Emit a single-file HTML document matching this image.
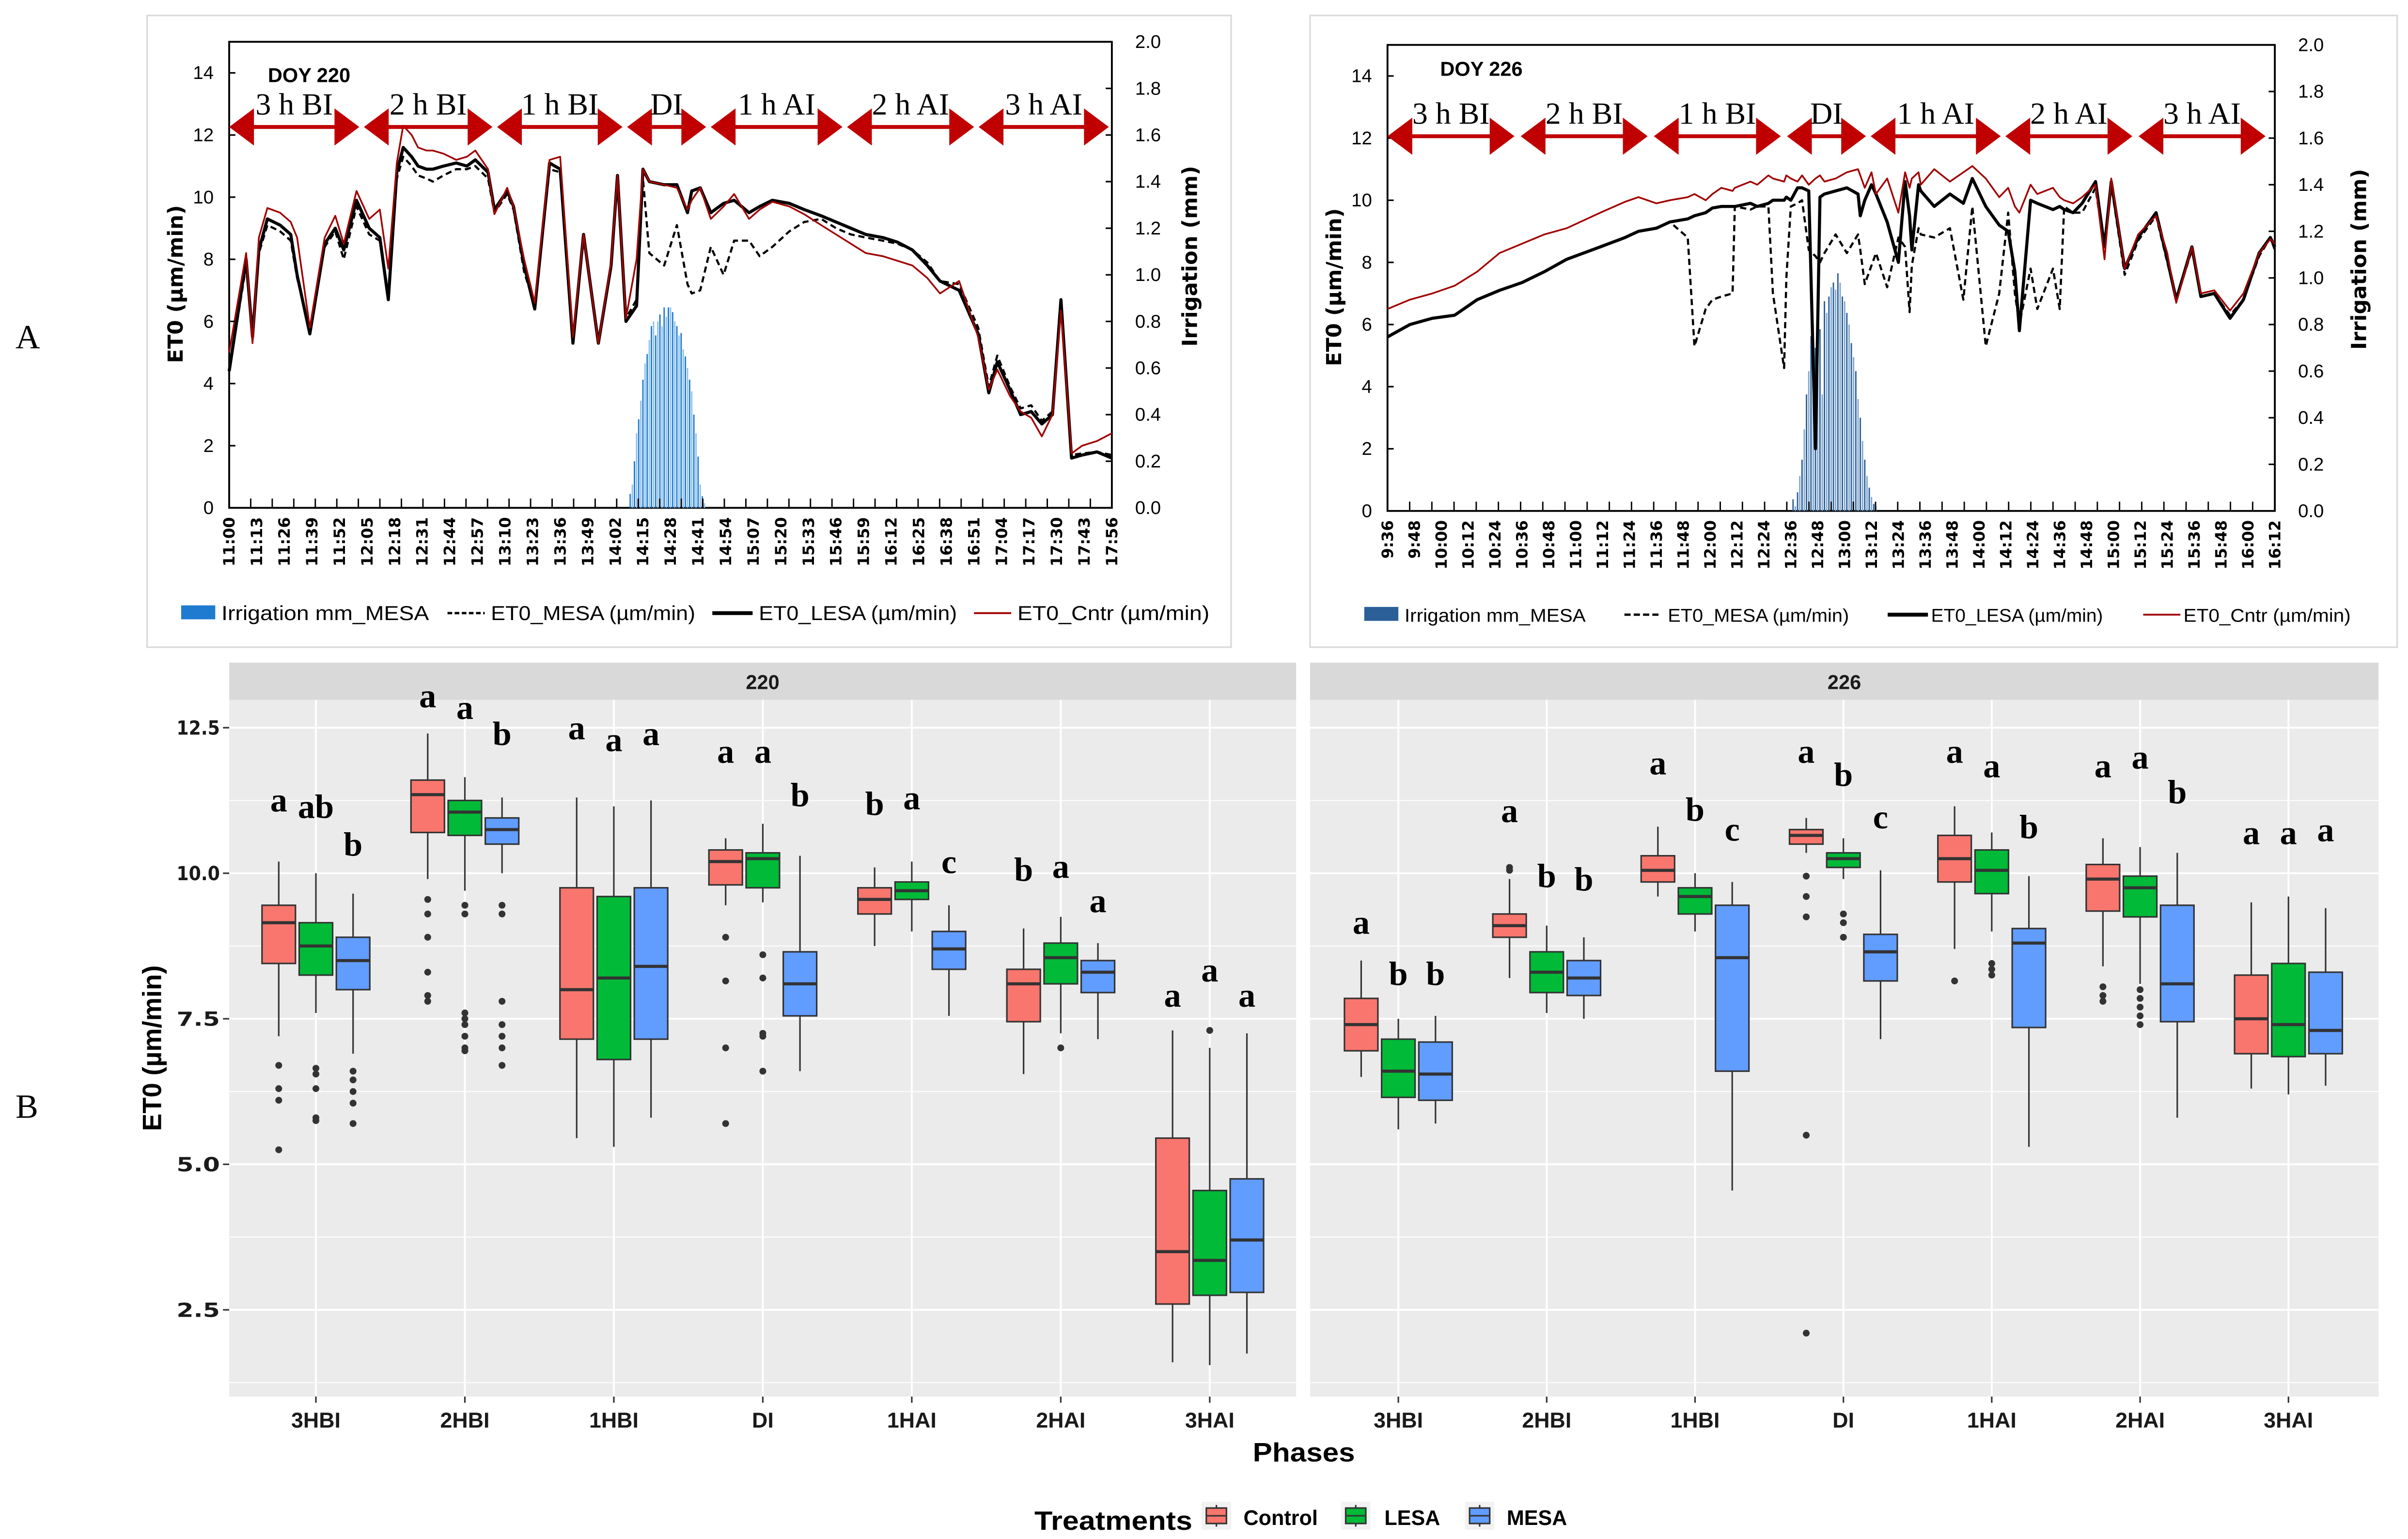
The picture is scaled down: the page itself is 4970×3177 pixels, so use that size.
<!DOCTYPE html>
<html><head><meta charset="utf-8"><title>ET0 chart</title>
<style>
html,body{margin:0;padding:0;background:#fff;}
svg{display:block;}
</style></head>
<body>
<svg id="fig" xmlns="http://www.w3.org/2000/svg" width="4970" height="3177" viewBox="0 0 1555 994" preserveAspectRatio="none">
<rect x="0" y="0" width="1555" height="994" fill="#fff"/>
<text x="10" y="225" font-family="Liberation Serif, serif" font-size="22">A</text>
<text x="10" y="722" font-family="Liberation Serif, serif" font-size="22">B</text>
<g id="topL"></g><g id="topR"></g><g id="bot"></g>
</svg>
<script>
// ---------- DATA: DOY 220 line chart (minutes after 11:00) ----------
const tL = [0,8,11,14,18,24,29,32,38,45,50,54,60,66,71,75,79,82,86,89,93,96,101,107,112,116,122,125,131,134,139,144,151,156,162,167,174,180,183,187,192,195,198,205,211,216,218,222,227,233,238,245,250,256,264,271,279,286,293,300,308,315,322,329,335,344,353,358,362,368,373,378,383,388,392,397,402,409,416];
const cntrL = [5.0,8.2,5.3,8.7,9.65,9.5,9.2,8.7,5.8,8.7,9.4,8.5,10.2,9.3,9.6,7.7,11.1,12.3,12.0,11.6,11.5,11.5,11.4,11.2,11.3,11.5,10.9,9.45,10.3,9.7,8.0,6.6,11.2,11.3,5.5,8.8,5.3,7.9,10.7,6.1,8.0,10.9,10.5,10.4,10.3,9.6,9.9,10.3,9.3,9.7,10.1,9.3,9.6,9.85,9.7,9.45,9.1,8.8,8.5,8.2,8.1,7.95,7.8,7.4,6.9,7.3,5.5,3.8,4.45,3.6,3.1,2.9,2.3,3.0,6.35,1.75,2.0,2.15,2.4];
const lesaL = [4.4,8.0,5.5,8.3,9.3,9.1,8.8,7.5,5.6,8.5,9.0,8.3,9.9,9.0,8.7,6.7,10.8,11.6,11.3,11.0,10.9,10.9,11.0,11.1,11.0,11.2,10.8,9.6,10.2,9.7,7.8,6.4,11.1,10.9,5.3,8.8,5.3,7.8,10.7,6.0,6.5,10.9,10.5,10.4,10.4,9.5,10.2,10.3,9.5,9.8,9.9,9.5,9.7,9.9,9.8,9.6,9.4,9.2,9.0,8.8,8.7,8.55,8.3,7.8,7.3,7.0,5.6,3.7,4.7,3.8,3.0,3.1,2.7,3.0,6.7,1.6,1.7,1.8,1.6];
const mesaL = [4.4,7.8,5.4,8.2,9.1,8.9,8.6,7.4,5.7,8.4,8.9,8.0,9.7,8.8,8.6,6.9,10.6,11.3,11.0,10.7,10.6,10.5,10.7,10.9,10.9,11.0,10.6,9.5,10.1,9.6,7.6,6.5,10.9,10.8,5.4,8.7,5.4,7.7,10.5,6.1,6.7,10.6,8.2,7.8,9.1,7.2,6.9,7.0,8.4,7.5,8.6,8.6,8.1,8.4,8.9,9.2,9.3,9.0,8.8,8.7,8.6,8.5,8.3,7.9,7.3,7.2,5.8,3.9,4.9,3.9,3.2,3.3,2.8,3.1,6.6,1.7,1.75,1.8,1.7];
const irrTL = [189,190,191,192,193,194,195,196,197,198,199,200,201,202,203,204,205,206,207,208,209,210,211,212,213,214,215,216,217,218,219,220,221,222,223,224];
const irrL = [0.06,0.1,0.2,0.32,0.38,0.46,0.55,0.62,0.66,0.72,0.78,0.8,0.74,0.8,0.83,0.78,0.86,0.82,0.86,0.86,0.84,0.8,0.78,0.74,0.75,0.68,0.65,0.6,0.55,0.5,0.4,0.32,0.22,0.1,0.05,0.02];
// ---------- DATA: DOY 226 line chart (minutes after 9:36) ----------
const tR = [0,10,20,30,40,50,60,70,80,95,106,112,120,126,134,137,142,145,149,154,155,162,165,170,172,177,178,180,183,185,188,191,193,195,200,205,210,211,213,216,218,223,228,231,233,234,237,238,244,251,257,261,267,273,277,280,282,287,290,297,300,302,306,310,316,320,323,329,335,343,348,352,359,363,369,376,382,389,394,396];
const cntrR = [6.5,6.8,7.0,7.25,7.7,8.3,8.6,8.9,9.1,9.6,9.95,10.1,9.9,10.0,10.1,10.2,10.0,10.2,10.4,10.3,10.4,10.6,10.5,10.8,10.7,10.6,10.8,10.7,10.6,10.8,10.5,10.7,10.8,10.6,10.7,10.9,11.0,10.8,10.4,10.9,10.2,10.7,9.6,10.9,10.4,10.7,10.9,10.5,11.0,10.6,10.9,11.1,10.7,10.1,10.4,9.8,9.6,10.5,10.2,10.4,10.1,10.0,9.9,10.1,10.5,8.1,10.7,7.8,8.9,9.5,8.3,6.7,8.5,7.0,7.1,6.45,7.0,8.3,8.75,8.6];
const lesaR = [5.6,6.0,6.2,6.3,6.8,7.1,7.35,7.7,8.1,8.5,8.8,9.0,9.1,9.3,9.4,9.5,9.6,9.75,9.8,9.8,9.8,9.9,9.8,9.9,10.0,10.0,10.1,10.0,10.4,10.4,10.3,2.0,10.1,10.2,10.3,10.4,10.2,9.5,10.0,10.5,10.2,9.3,8.0,10.6,9.5,8.4,10.5,10.3,9.8,10.2,9.9,10.7,9.8,9.2,9.0,7.7,5.8,10.0,9.9,9.7,9.8,9.7,9.6,9.9,10.6,8.5,10.6,7.8,8.8,9.6,8.1,6.8,8.5,6.9,7.0,6.2,6.8,8.3,8.8,8.5];
const mesaR = [5.6,6.0,6.2,6.3,6.8,7.1,7.35,7.7,8.1,8.5,8.8,9.0,9.1,9.3,8.8,5.3,6.5,6.8,6.9,7.0,9.8,9.7,9.8,9.8,7.0,4.6,7.5,9.8,9.9,10.0,8.4,8.2,8.0,8.3,8.9,8.3,8.9,8.4,7.3,7.9,8.3,7.2,8.8,8.5,6.4,7.9,9.1,8.9,8.8,9.1,6.8,9.8,5.3,7.0,9.6,7.0,6.0,7.8,6.5,7.8,6.5,9.8,9.6,9.6,10.4,8.4,10.5,7.6,8.7,9.5,8.0,6.8,8.4,6.9,7.0,6.3,6.8,8.2,8.8,8.4];
const irrTR = [181,182,183,184,185,186,187,188,189,190,191,192,193,194,195,196,197,198,199,200,201,202,203,204,205,206,207,208,209,210,211,212,213,214,215,216,217,218];
const irrR = [0.05,0.02,0.08,0.15,0.22,0.35,0.5,0.6,0.75,0.8,0.7,0.85,0.78,0.5,0.9,0.85,0.92,0.96,0.98,0.95,1.02,0.98,0.92,0.9,0.85,0.8,0.72,0.66,0.6,0.48,0.4,0.3,0.22,0.15,0.1,0.06,0.03,0.02];
const phaseNames = ["3 h BI","2 h BI","1 h BI","DI","1 h AI","2 h AI","3 h AI"];
const yTicksTop = [0,2,4,6,8,10,12,14];
const y2TicksTop = ["0.0","0.2","0.4","0.6","0.8","1.0","1.2","1.4","1.6","1.8","2.0"];

// ---------- DATA: boxplots ----------
const phases = ["3HBI","2HBI","1HBI","DI","1HAI","2HAI","3HAI"];
const treatments = ["Control","LESA","MESA"];
const bpTicks = [2.5,5.0,7.5,10.0,12.5];
const d220C = [[7.2,8.45,9.15,9.45,10.2],[9.9,10.7,11.35,11.6,12.4],[5.45,7.15,8.0,9.75,11.3],[9.45,9.8,10.2,10.4,10.6],[8.75,9.3,9.55,9.75,10.1],[6.55,7.45,8.1,8.35,9.05],[1.6,2.6,3.5,5.45,7.3]];
const d220L = [[7.6,8.25,8.75,9.15,10.0],[9.7,10.65,11.05,11.25,11.65],[5.3,6.8,8.2,9.6,11.15],[9.5,9.75,10.25,10.35,10.85],[9.0,9.55,9.7,9.85,10.2],[7.25,8.1,8.55,8.8,9.25],[1.55,2.75,3.35,4.55,7.0]];
const d220M = [[6.9,8.0,8.5,8.9,9.65],[10.0,10.5,10.75,10.95,11.3],[5.8,7.15,8.4,9.75,11.25],[6.6,7.55,8.1,8.65,10.3],[7.55,8.35,8.7,9.0,9.45],[7.15,7.95,8.3,8.5,8.8],[1.75,2.8,3.7,4.75,7.25]];
const d226C = [[6.5,6.95,7.4,7.85,8.5],[8.2,8.9,9.1,9.3,9.9],[9.6,9.85,10.05,10.3,10.8],[10.35,10.5,10.65,10.75,10.95],[8.7,9.85,10.25,10.65,11.15],[8.4,9.35,9.9,10.15,10.6],[6.3,6.9,7.5,8.25,9.5]];
const d226L = [[5.6,6.15,6.6,7.15,7.5],[7.6,7.95,8.3,8.65,9.1],[9.0,9.3,9.6,9.75,10.0],[9.9,10.1,10.25,10.35,10.6],[9.0,9.65,10.05,10.4,10.7],[8.1,9.25,9.75,9.95,10.45],[6.2,6.85,7.4,8.45,9.6]];
const d226M = [[5.7,6.1,6.55,7.1,7.55],[7.5,7.9,8.2,8.5,8.9],[4.55,6.6,8.55,9.45,9.85],[7.15,8.15,8.65,8.95,10.05],[5.3,7.35,8.8,9.05,9.95],[5.8,7.45,8.1,9.45,10.35],[6.35,6.9,7.3,8.3,9.4]];
const o220C = [[6.7,6.3,6.1,5.25],[9.55,9.3,8.9,8.3,7.9,7.8],[],[8.9,8.15,7.0,5.7],[],[],[]];
const o220L = [[6.65,6.55,6.3,5.8,5.75],[9.45,9.3,7.6,7.5,7.4,7.2,7.0,6.95],[],[8.6,8.2,7.25,7.2,6.6],[],[7.0],[7.3]];
const o220M = [[6.6,6.45,6.25,6.05,5.7],[9.45,9.3,7.8,7.4,7.2,7.0,6.7],[],[],[],[],[]];
const o226C = [[],[10.05,10.1],[],[9.95,9.6,9.25,5.5,2.1],[8.15],[8.05,7.9,7.8],[]];
const o226L = [[],[],[],[9.3,9.15,8.9],[8.45,8.35,8.25],[8.0,7.85,7.7,7.55,7.4],[]];
const o226M = [[],[],[],[],[],[],[]];
const let220C = ["a","a","a","a","b","b","a"];
const let220L = ["ab","a","a","a","a","a","a"];
const let220M = ["b","b","a","b","c","a","a"];
const let226C = ["a","a","a","a","a","a","a"];
const let226L = ["b","b","b","b","a","a","a"];
const let226M = ["b","b","c","c","b","b","a"];
const ly220C = [11.06,12.85,12.3,11.9,11.0,9.87,7.71];
const ly220L = [10.95,12.65,12.1,11.9,11.1,9.92,8.14];
const ly220M = [10.3,12.2,12.2,11.15,10.0,9.33,7.71];
const ly226C = [8.96,10.88,11.7,11.9,11.9,11.65,10.5];
const ly226L = [8.08,9.76,10.9,11.5,11.65,11.8,10.5];
const ly226M = [8.08,9.7,10.56,10.77,10.6,11.2,10.55];

const NS="http://www.w3.org/2000/svg";
function mk(parent,tag,attrs,txt){const e=document.createElementNS(NS,tag);for(const k in attrs)e.setAttribute(k,attrs[k]);if(txt!==undefined)e.textContent=txt;parent.appendChild(e);return e;}
function fmtTime(startMin,m){const t=startMin+m;const h=Math.floor(t/60),mm=t%60;return h+":"+(mm<10?"0":"")+mm;}

function lineChart(g,cfg){
  const {x0,x1,yT,yB,tMax,box}=cfg;
  const xs=t=>x0+(x1-x0)*t/tMax;
  const ys=v=>yB-(yB-yT)*v/15;
  const ys2=v=>yB-(yB-yT)*v/2.0;
  const fr=mk(g,'rect',{x:box[0],y:box[1],width:box[2],height:box[3],fill:'#fff',stroke:'#d9d9d9','stroke-width':1});
  
  
  const ax=mk(g,'rect',{x:x0,y:yT,width:x1-x0,height:yB-yT,fill:'none',stroke:'#000','stroke-width':1.2});
  
  
  const ig=mk(g,'g',{});
  
  
  cfg.irrT.forEach((t,i)=>{
    const b=mk(ig,'rect',{x:xs(t)-0.45,y:ys2(cfg.irr[i]),width:0.9,height:yB-ys2(cfg.irr[i]),fill:i%2?cfg.barC2:cfg.barC});
    
    
  });
  function path(ts,vs,attrs,name){
    const d=ts.map((t,i)=>(i?'L':'M')+xs(t).toFixed(2)+' '+ys(vs[i]).toFixed(2)).join(' ');
    const p=mk(g,'path',Object.assign({d:d,fill:'none','stroke-linejoin':'round'},attrs));
    
    
  }
  path(cfg.t,cfg.mesa,{stroke:'#000','stroke-width':1.4,'stroke-dasharray':'4 2.5'},'et0-mesa-line');
  path(cfg.t,cfg.lesa,{stroke:'#000','stroke-width':2},'et0-lesa-line');
  path(cfg.t,cfg.cntr,{stroke:'#a00000','stroke-width':1.1},'et0-cntr-line');
  yTicksTop.forEach(v=>{
    mk(g,'line',{x1:x0,x2:x0+4,y1:ys(v),y2:ys(v),stroke:'#000','stroke-width':1});
    const t=mk(g,'text',{x:x0-10,y:ys(v)+4,'text-anchor':'end','font-family':'Liberation Sans Narrow, Liberation Sans, sans-serif','font-size':12},String(v));
    
    
  });
  y2TicksTop.forEach(s=>{
    const v=parseFloat(s);
    mk(g,'line',{x1:x1-4,x2:x1,y1:ys2(v),y2:ys2(v),stroke:'#000','stroke-width':1});
    const t=mk(g,'text',{x:x1+15,y:ys2(v)+4,'font-family':'Liberation Sans Narrow, Liberation Sans, sans-serif','font-size':12},s);
    
    
  });
  for(let i=0;i<=cfg.nTicks;i++){const x=x0+(x1-x0)*i/cfg.nTicks;mk(g,'line',{x1:x,x2:x,y1:yB-6,y2:yB,stroke:'#000','stroke-width':0.9});}
  for(let m=0;m<=tMax;m+=cfg.step){
    const x=xs(m);
    const t=mk(g,'text',{x:0,y:0,transform:`translate(${x+3.5},${yB+6}) rotate(-90)`,'text-anchor':'end','font-family':'DejaVu Sans, sans-serif','font-weight':'bold','font-size':10},fmtTime(cfg.start,m));
    
    
  }
  const yt=mk(g,'text',{x:0,y:0,transform:`translate(${cfg.ytX},${(yT+yB)/2+6}) rotate(-90)`,'text-anchor':'middle','font-family':'DejaVu Sans, sans-serif','font-weight':'bold','font-size':13.5},'ET0 (µm/min)');
  
  
  const y2=mk(g,'text',{x:0,y:0,transform:`translate(${cfg.y2X},${(yT+yB)/2-12}) rotate(-90)`,'text-anchor':'middle','font-family':'DejaVu Sans, sans-serif','font-weight':'bold','font-size':13.5},'Irrigation (mm)');
  
  
  const doy=mk(g,'text',{x:cfg.doy[0],y:cfg.doy[1],'font-family':'Liberation Sans Narrow, Liberation Sans, sans-serif','font-weight':'bold','font-size':13},cfg.doyText);
  
  
  cfg.segs.forEach((s,i)=>{
    const a=s[0],b=s[1],y=cfg.arrowY;
    const ag=mk(g,'g',{});
    
    
    mk(ag,'line',{x1:a+10,x2:b-10,y1:y,y2:y,stroke:'#c00000','stroke-width':2.5});
    mk(ag,'polygon',{points:`${a},${y} ${a+16},${y-12} ${a+16},${y+12}`,fill:'#c00000'});
    mk(ag,'polygon',{points:`${b},${y} ${b-16},${y-12} ${b-16},${y+12}`,fill:'#c00000'});
    const lt=mk(g,'text',{x:(a+b)/2,y:y-8,'text-anchor':'middle','font-family':'Liberation Serif, serif','font-size':20},phaseNames[i]);
    
    
  });
  const L=cfg.leg, ly=cfg.legY, fs=cfg.legFs;
  const lg=mk(g,'g',{});
  
  
  mk(lg,'rect',{x:L[0],y:ly-5,width:22,height:9,fill:cfg.legBar});
  mk(lg,'line',{x1:L[2],x2:L[2]+24,y1:ly,y2:ly,stroke:'#000','stroke-width':1.5,'stroke-dasharray':cfg.dashLeg});
  mk(lg,'line',{x1:L[4],x2:L[4]+26,y1:ly,y2:ly,stroke:'#000','stroke-width':2.5});
  mk(lg,'line',{x1:L[6],x2:L[6]+24,y1:ly,y2:ly,stroke:'#a00000','stroke-width':1.2});
  const labs=['Irrigation mm_MESA','ET0_MESA (µm/min)','ET0_LESA (µm/min)','ET0_Cntr (µm/min)'];
  labs.forEach((s,i)=>{
    const t=mk(lg,'text',{x:L[2*i+1],y:ly+4.5,'font-family':'Liberation Sans Narrow, Liberation Sans, sans-serif','font-weight':cfg.legW,'font-size':fs,textLength:cfg.legLen[i],lengthAdjust:'spacingAndGlyphs'},s);
    
    
  });
}

lineChart(document.getElementById('topL'),{x0:148,x1:718,yT:27,yB:328,tMax:416,box:[95,10,700,408],
 t:tL,cntr:cntrL,lesa:lesaL,mesa:mesaL,irrT:irrTL,irr:irrL,barC:'#1f7bd0',barC2:'#8cc0ea',legBar:'#1f7bd0',
 nTicks:41,step:13,start:660,ytX:118,y2X:773,doy:[173,53],doyText:'DOY 220',
 segs:[[148,232],[235,318],[321,402],[405,456],[459,544],[547,629],[632,716]],arrowY:82,
 leg:[117,143,289,317,460,490,629,657],legY:396,legFs:13,legW:'normal',legLen:[134,132,128,124],dashLeg:'3 1.6'});
lineChart(document.getElementById('topR'),{x0:896,x1:1469,yT:29,yB:330,tMax:396,box:[846,10,702,408],
 t:tR,cntr:cntrR,lesa:lesaR,mesa:mesaR,irrT:irrTR,irr:irrR,barC:'#2a5f98',barC2:'#7fa6cf',legBar:'#2a5f98',
 nTicks:40,step:12,start:576,ytX:866,y2X:1528,doy:[930,49],doyText:'DOY 226',
 segs:[[896,978],[982,1064],[1068,1150],[1154,1205],[1208,1292],[1295,1377],[1381,1463]],arrowY:88,
 leg:[881,907,1049,1077,1219,1247,1384,1410],legY:397,legFs:12,legW:'normal',legLen:[117,117,111,108],dashLeg:'4 2'});

const bot=document.getElementById('bot');
const yb=v=>940-37.6*v;
const colors=['#f8766d','#00ba38','#619cff'];
function facet(px0,px1,label,c0,dx,data,outs,lets,lys){
  const g=mk(bot,'g',{});
  
  
  mk(g,'rect',{x:px0,y:452,width:px1-px0,height:450,fill:'#ebebeb'});
  const st=mk(g,'rect',{x:px0,y:428,width:px1-px0,height:24,fill:'#d9d9d9'});
  
  
  const sl=mk(g,'text',{x:(px0+px1)/2,y:445,'text-anchor':'middle','font-family':'Liberation Sans Narrow, Liberation Sans, sans-serif','font-weight':'bold','font-size':13,fill:'#1a1a1a'},label);
  
  
  [1.25,3.75,6.25,8.75,11.25].forEach(v=>mk(g,'line',{x1:px0,x2:px1,y1:yb(v),y2:yb(v),stroke:'#fff','stroke-width':0.6}));
  bpTicks.forEach(v=>mk(g,'line',{x1:px0,x2:px1,y1:yb(v),y2:yb(v),stroke:'#fff','stroke-width':1.2}));
  phases.forEach((p,i)=>{
    const cx=c0+i*dx;
    mk(g,'line',{x1:cx,x2:cx,y1:452,y2:902,stroke:'#fff','stroke-width':1.2});
    mk(g,'line',{x1:cx,x2:cx,y1:902,y2:906,stroke:'#333','stroke-width':1});
    const xl=mk(g,'text',{x:cx,y:922,'text-anchor':'middle','font-family':'Liberation Sans Narrow, Liberation Sans, sans-serif','font-weight':'bold','font-size':14,fill:'#1a1a1a'},p);
    
    
  });
  phases.forEach((p,i)=>{
    for(let k=0;k<3;k++){
      const s=data[k][i];const bx=c0+i*dx+(k-1)*24;
      const bg=mk(g,'g',{});
      
      
      mk(bg,'line',{x1:bx,x2:bx,y1:yb(s[0]),y2:yb(s[4]),stroke:'#333','stroke-width':1});
      mk(bg,'rect',{x:bx-10.8,y:yb(s[3]),width:21.6,height:yb(s[1])-yb(s[3]),fill:colors[k],stroke:'#333','stroke-width':1});
      mk(bg,'line',{x1:bx-10.8,x2:bx+10.8,y1:yb(s[2]),y2:yb(s[2]),stroke:'#333','stroke-width':2});
      outs[k][i].forEach(o=>{
        const c=mk(bg,'circle',{cx:bx,cy:yb(o),r:2.2,fill:'#333'});
        
        
      });
      const lt=mk(g,'text',{x:bx,y:yb(lys[k][i]),'text-anchor':'middle','font-family':'Liberation Serif, serif','font-weight':'bold','font-size':22},lets[k][i]);
      
      
    }
  });
}
facet(148,837,'220',204,96.2,[d220C,d220L,d220M],[o220C,o220L,o220M],[let220C,let220L,let220M],[ly220C,ly220L,ly220M]);
facet(846,1536,'226',903,95.8,[d226C,d226L,d226M],[o226C,o226L,o226M],[let226C,let226L,let226M],[ly226C,ly226L,ly226M]);
bpTicks.forEach(v=>{
  mk(bot,'line',{x1:144,x2:148,y1:yb(v),y2:yb(v),stroke:'#333','stroke-width':1});
  const t=mk(bot,'text',{x:142,y:yb(v)+4.5,'text-anchor':'end','font-family':'DejaVu Sans, sans-serif','font-weight':'bold','font-size':12.5,fill:'#1a1a1a',textLength:28,lengthAdjust:'spacingAndGlyphs'},v.toFixed(1));
  
  
});
const byt=mk(bot,'text',{x:0,y:0,transform:'translate(104,677) rotate(-90)','text-anchor':'middle','font-family':'Liberation Sans, sans-serif','font-weight':'bold','font-size':17},'ET0 (µm/min)');


const bxt=mk(bot,'text',{x:842,y:944,'text-anchor':'middle','font-family':'Liberation Sans, sans-serif','font-weight':'bold','font-size':17,textLength:66,lengthAdjust:'spacingAndGlyphs'},'Phases');


const lg=mk(bot,'g',{});


const lt=mk(lg,'text',{x:668,y:988,'font-family':'Liberation Sans, sans-serif','font-weight':'bold','font-size':17,textLength:102,lengthAdjust:'spacingAndGlyphs'},'Treatments');


const kx=[776,866,946],tx=[803,894,973];
treatments.forEach((n,k)=>{
  const kg=mk(lg,'g',{});
  
  
  mk(kg,'rect',{x:kx[k],y:970,width:19,height:18,fill:'#f2f2f2'});
  mk(kg,'line',{x1:kx[k]+9.5,x2:kx[k]+9.5,y1:972,y2:986,stroke:'#333','stroke-width':1});
  mk(kg,'rect',{x:kx[k]+3,y:974,width:13,height:10,fill:colors[k],stroke:'#333','stroke-width':1});
  mk(kg,'line',{x1:kx[k]+3,x2:kx[k]+16,y1:979,y2:979,stroke:'#333','stroke-width':1});
  const t=mk(lg,'text',{x:tx[k],y:985,'font-family':'Liberation Sans, sans-serif','font-weight':'bold','font-size':13.5},n);
  
  
});
</script>
</body></html>
